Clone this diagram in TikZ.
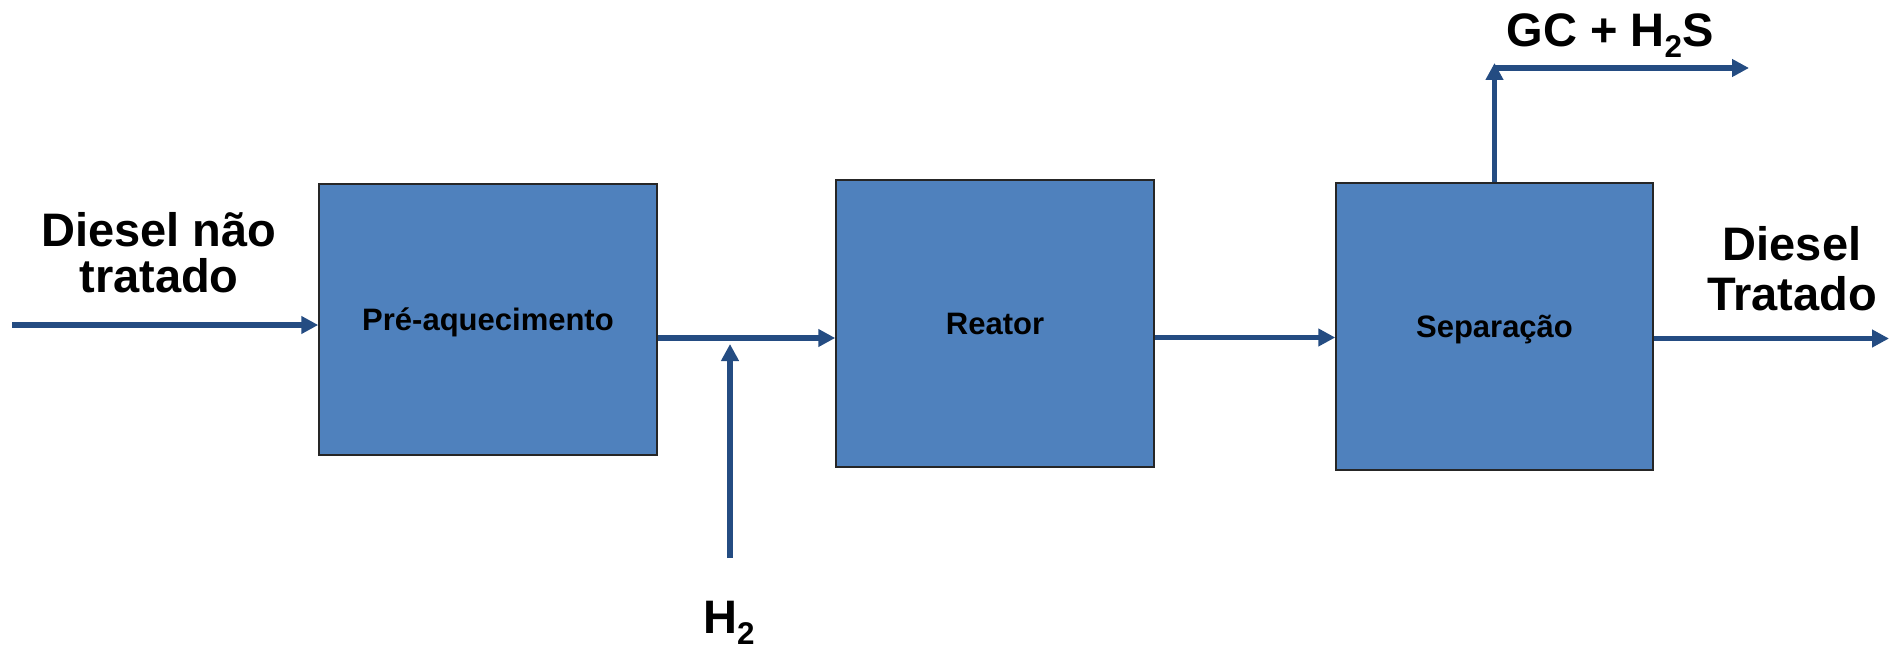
\documentclass[tikz,border=0pt]{standalone}
\usepackage{fontspec}
\setmainfont{Liberation Sans}
\usetikzlibrary{arrows.meta}
\definecolor{boxfill}{HTML}{4F81BD}
\definecolor{flow}{RGB}{36,76,130}
\newcommand\lsub[1]{\raisebox{-5.5pt}{\fontsize{15.7pt}{16pt}\selectfont #1}}
\tikzset{
  procbox/.style={draw=black!85, line width=0.75pt, fill=boxfill, rectangle, inner sep=0pt,
    font=\fontsize{15.5pt}{18pt}\selectfont\bfseries, text height=11.1pt, text depth=0pt},
  biglabel/.style={font=\fontsize{23.5pt}{23pt}\selectfont\bfseries, inner sep=0pt, align=center},
  flowarrow/.style={draw=flow, line width=2.75pt, -{Triangle[length=8.5pt,width=8.5pt]}},
  flowline/.style={draw=flow, line width=2.75pt}
}
\begin{document}
\begin{tikzpicture}[x=0.5pt,y=-0.5pt]
\useasboundingbox (0,0) rectangle (1889,647);
% boxes
\node[procbox, minimum width=169pt, minimum height=135.5pt] (b1) at (488,319.5) {Pré-aquecimento};
\node[procbox, minimum width=159pt, minimum height=143.5pt] (b2) at (995,323.5) {Reator};
\node[procbox, minimum width=158.5pt, minimum height=143.5pt] (b3) at (1494.5,326.5) {Separação};
% labels
\node[biglabel, anchor=base] (lin) at (159,292) {Diesel não\\tratado};
\node[biglabel, font=\fontsize{23.5pt}{25pt}\selectfont\bfseries, anchor=base] (lout) at (1792,310) {Diesel\\Tratado};
\node[biglabel, anchor=base] (lgas) at (1610,47) {GC + H\lsub{2}S};
\node[biglabel, anchor=base] (lh2) at (729,633) {H\lsub{2}};
% coordinates
\coordinate (in) at (12,325);
\coordinate (ya) at (0,338);
\coordinate (yb) at (0,337.5);
\coordinate (yc) at (0,338.5);
\coordinate (out) at (1889,338.5);
\coordinate (h2s) at (730,558);
\coordinate (h2t) at (730,344);
\coordinate (gtop) at (1494.5,63);
\coordinate (gl) at (1494.5,68);
\coordinate (gend) at (1749,68);
% connectors
\draw[flowarrow] (in) -- (in -| b1.west);
\draw[flowarrow] (b1.east |- ya) -- (b2.west |- ya);
\draw[flowarrow] (h2s) -- (h2t);
\draw[flowarrow] (b2.east |- yb) -- (b3.west |- yb);
\draw[flowarrow] (b3.east |- yc) -- (out);
\draw[flowarrow] (b3.north) -- (gtop);
\draw[flowarrow] (gl) -- (gend);
\end{tikzpicture}
\end{document}
